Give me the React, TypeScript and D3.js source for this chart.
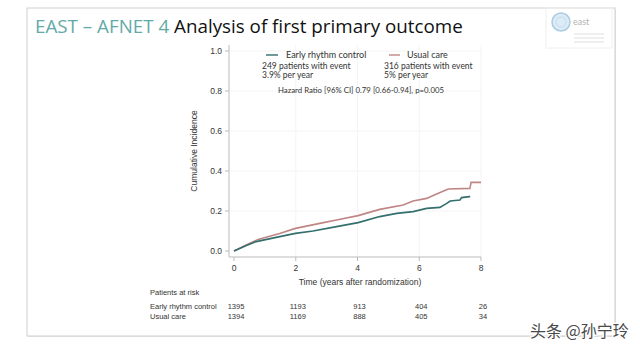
import React from "react";
import { scaleLinear, line, curveLinear } from "d3";

// cumulative incidence (years, value)
const earlyT = [0, 0.4, 0.72, 1.48, 1.99, 2.56, 3.32, 4.02, 4.72, 5.27, 5.8, 6.24, 6.67, 6.89, 7.0, 7.32, 7.37, 7.62, 7.65];
const earlyV = [0, 0.028, 0.047, 0.072, 0.088, 0.1, 0.122, 0.142, 0.172, 0.188, 0.197, 0.213, 0.218, 0.238, 0.25, 0.255, 0.267, 0.272, 0.272];
const usualT = [0, 0.4, 0.78, 1.48, 1.99, 2.78, 3.32, 4.02, 4.72, 5.48, 5.8, 6.24, 6.56, 6.94, 7.64, 7.68, 8.0];
const usualV = [0, 0.03, 0.058, 0.088, 0.113, 0.138, 0.155, 0.177, 0.208, 0.23, 0.25, 0.263, 0.285, 0.31, 0.313, 0.343, 0.343];

const xTicks = [0, 2, 4, 6, 8];
const yTicks = [0, 0.2, 0.4, 0.6, 0.8, 1.0];
const riskGroups = ["Early rhythm control", "Usual care"];
const riskEarly = [1395, 1193, 913, 404, 26];
const riskUsual = [1394, 1169, 888, 405, 34];

const teal = "#336f6d";
const rose = "#c08585";

export default function App() {
  const x = scaleLinear().domain([0, 8]).range([234, 481]);
  const y = scaleLinear().domain([0, 1]).range([251, 51]);
  const path = line<[number, number]>()
    .x((d) => x(d[0]))
    .y((d) => y(d[1]))
    .curve(curveLinear);
  const early = earlyT.map((t, i) => [t, earlyV[i]] as [number, number]);
  const usual = usualT.map((t, i) => [t, usualV[i]] as [number, number]);
  const axisFont = "'Liberation Sans', Arial, sans-serif";
  const legFont = "Lato, 'Open Sans', sans-serif";

  return (
    <svg width={640} height={351} style={{ position: "absolute", left: 0, top: 0 }}>
      <rect width={640} height={351} fill="#fff" />
      {/* slide frame */}
      <rect x={28} y={9} width={588} height={328} fill="#e6e6e6" />
      <rect x={27} y={8} width={588} height={328} fill="#fff" stroke="#cfcfcf" strokeWidth={1} />

      {/* title */}
      <text x={35} y={33} fontFamily="'Open Sans', Lato, sans-serif" fontSize={18.8}>
        <tspan fill="#62aaa8">EAST – AFNET 4 </tspan>
        <tspan fill="#111">Analysis of first primary outcome</tspan>
      </text>

      {/* logo */}
      <rect x={546} y={8} width={66} height={40} fill="none" stroke="#f0f0f0" />
      <circle cx={561} cy={22} r={9} fill="#dcebf5" stroke="#a9cde3" strokeWidth={1.5} />
      <circle cx={561} cy={22} r={5} fill="none" stroke="#c4dfee" strokeWidth={1} />
      <text x={573} y={25} fontFamily={legFont} fontSize={9} fill="#b5b5b5">east</text>
      {[34, 38, 42].map((v) => (
        <line key={v} x1={574} x2={604} y1={v} y2={v} stroke="#dedede" strokeWidth={1} />
      ))}

      {/* grid */}
      {xTicks.slice(1).map((t) => (
        <line key={"gx" + t} x1={x(t)} x2={x(t)} y1={45} y2={257} stroke="#f4f4f4" />
      ))}
      {yTicks.slice(1).map((t) => (
        <line key={"gy" + t} x1={229} x2={481} y1={y(t)} y2={y(t)} stroke="#f4f4f4" />
      ))}

      {/* y axis */}
      <line x1={229} x2={229} y1={45} y2={257} stroke="#bbb" />
      {yTicks.map((t) => (
        <g key={"y" + t}>
          <line x1={225} x2={229} y1={y(t)} y2={y(t)} stroke="#bbb" />
          <text x={222} y={y(t) + 3} textAnchor="end" fontFamily={axisFont} fontSize={8.5} fill="#333">
            {t.toFixed(1)}
          </text>
        </g>
      ))}
      <text transform="translate(197,151) rotate(-90)" textAnchor="middle" fontFamily={axisFont} fontSize={8.5} fill="#333">
        Cumulative Incidence
      </text>

      {/* x axis */}
      <line x1={229} x2={481} y1={257} y2={257} stroke="#bbb" />
      {xTicks.map((t) => (
        <g key={"x" + t}>
          <line x1={x(t)} x2={x(t)} y1={257} y2={261} stroke="#bbb" />
          <text x={x(t)} y={271} textAnchor="middle" fontFamily={axisFont} fontSize={8.5} fill="#333">
            {t}
          </text>
        </g>
      ))}
      <text x={360} y={285} textAnchor="middle" fontFamily={axisFont} fontSize={8.5} fill="#333">
        Time (years after randomization)
      </text>

      {/* curves */}
      <path d={path(usual) ?? ""} fill="none" stroke={rose} strokeWidth={1.6} />
      <path d={path(early) ?? ""} fill="none" stroke={teal} strokeWidth={1.6} />

      {/* legend */}
      <g fontFamily={legFont} fontSize={8.5} fill="#333">
        <line x1={266} x2={278} y1={55} y2={55} stroke={teal} strokeWidth={1.4} />
        <text x={286} y={58} fontSize={9}>Early rhythm control</text>
        <text x={262} y={69}>249 patients with event</text>
        <text x={262} y={78}>3.9% per year</text>
        <line x1={389} x2={400} y1={55} y2={55} stroke={rose} strokeWidth={1.4} />
        <text x={407} y={58} fontSize={9}>Usual care</text>
        <text x={384} y={69}>316 patients with event</text>
        <text x={384} y={78}>5% per year</text>
        <text x={278} y={93} fontSize={7.8}>Hazard Ratio [96% CI] 0.79 [0.66-0.94], p=0.005</text>
      </g>

      {/* patients at risk */}
      <g fontFamily={axisFont} fontSize={7.5} fill="#333">
        <text x={150} y={295}>Patients at risk</text>
        {riskGroups.map((g, gi) => (
          <text key={g} x={150} y={gi === 0 ? 309 : 319}>{g}</text>
        ))}
        {riskEarly.map((v, i) => (
          <text key={"e" + i} x={x(xTicks[i]) + 2} y={309} textAnchor="middle">{v}</text>
        ))}
        {riskUsual.map((v, i) => (
          <text key={"u" + i} x={x(xTicks[i]) + 2} y={319} textAnchor="middle">{v}</text>
        ))}
      </g>

      {/* watermark */}
      <text x={530} y={337} fontFamily="'Noto Sans CJK SC', sans-serif" fontSize={16} fill="#4a4a4a"
        stroke="#fff" strokeWidth={2.5} paintOrder="stroke">
        头条 @孙宁玲
      </text>
    </svg>
  );
}
